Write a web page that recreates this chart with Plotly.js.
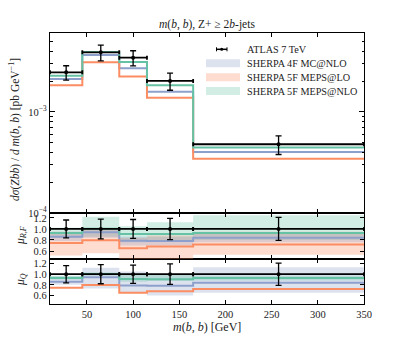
<!DOCTYPE html>
<html>
<head>
<meta charset="utf-8">
<script src="https://cdn.plot.ly/plotly-3.0.1.min.js"></script>
<style>html,body{margin:0;padding:0;background:#fff;}#chart{width:405px;height:337px;}</style>
</head>
<body>
<div id="chart"></div>
<script>
// ---- data ----
const binEdges = [10, 45, 85, 115, 165, 350];
const binCenters = [27.5, 65, 100, 140, 257.5];
const atlas = [2.47e-3, 3.90e-3, 3.45e-3, 2.03e-3, 4.79e-4];
const atlasErr = [0.40e-3, 0.70e-3, 0.59e-3, 0.39e-3, 1.00e-4];
const mcnlo4F = [2.12e-3, 3.67e-3, 2.71e-3, 1.59e-3, 4.02e-4];
const mepslo5F = [1.84e-3, 3.10e-3, 2.24e-3, 1.38e-3, 3.45e-4];
const mepsnlo5F = [2.29e-3, 3.92e-3, 3.13e-3, 1.84e-3, 4.44e-4];
// ratio-panel uncertainty bands (relative to data)
const muRF_4F_lo = [0.78, 0.84, 0.70, 0.70, 0.76];
const muRF_4F_hi = [0.95, 1.00, 0.86, 0.86, 0.92];
const muRF_LO_lo = [0.52, 0.56, 0.42, 0.42, 0.53];
const muRF_LO_hi = [0.95, 1.00, 0.84, 0.88, 0.95];
const muRF_NLO_lo = [0.84, 0.86, 0.76, 0.78, 0.80];
const muRF_NLO_hi = [1.02, 1.22, 1.05, 1.12, 1.25];
const muQ_4F_lo = [0.80, 0.73, 0.65, 0.60, 0.65];
const muQ_4F_hi = [0.96, 1.12, 1.05, 0.99, 1.13];
const muQ_NLO_lo = [0.90, 0.97, 0.86, 0.87, 0.88];
const muQ_NLO_hi = [0.97, 1.03, 1.00, 1.00, 0.97];
const xTicks = [50, 100, 150, 200, 250, 300, 350];
const ratioTicks = [0.6, 0.8, 1.0, 1.2];
const legendNames = ['ATLAS 7 TeV', 'SHERPA 4F MC@NLO', 'SHERPA 5F MEPS@LO', 'SHERPA 5F MEPS@NLO'];

// ---- styles ----
const FONT = 'Liberation Serif, DejaVu Serif, serif';
const C_BLUE = '#8da0cb', C_ORANGE = '#fc8d62', C_GREEN = '#66c2a5';
const F_BLUE = 'rgba(141,160,203,0.3)', F_ORANGE = 'rgba(252,141,98,0.3)', F_GREEN = 'rgba(102,194,165,0.3)';
const TXT = '#222';

const stepY = v => v.concat([v[v.length - 1]]);
const halfW = binEdges.slice(0, -1).map((e, i) => (binEdges[i + 1] - e) / 2);
const ratio = (m) => m.map((v, i) => v / atlas[i]);
const relErr = atlasErr.map((e, i) => e / atlas[i]);
const ones = atlas.map(() => 1);

function stepLine(y, color, xa, ya) {
  return {x: binEdges, y: stepY(y), mode: 'lines', line: {shape: 'hv', color: color, width: 2},
          xaxis: xa, yaxis: ya, showlegend: false, hoverinfo: 'skip'};
}
function band(lo, hi, fill, xa, ya) {
  return [
    {x: binEdges, y: stepY(lo), mode: 'lines', line: {shape: 'hv', width: 0}, xaxis: xa, yaxis: ya, showlegend: false, hoverinfo: 'skip'},
    {x: binEdges, y: stepY(hi), mode: 'lines', line: {shape: 'hv', width: 0}, fill: 'tonexty', fillcolor: fill, xaxis: xa, yaxis: ya, showlegend: false, hoverinfo: 'skip'}
  ];
}
function dataPts(y, err, xa, ya) {
  return {x: binCenters, y: y, mode: 'markers', marker: {color: 'black', size: 4},
    error_y: {type: 'data', array: err, color: 'black', thickness: 1.3, width: 3},
    error_x: {type: 'data', array: halfW, color: 'black', thickness: 1.8, width: 2},
    xaxis: xa, yaxis: ya, showlegend: false, hoverinfo: 'skip'};
}

const traces = [];
// main panel
traces.push(stepLine(mcnlo4F, C_BLUE, 'x3', 'y'));
traces.push(stepLine(mepslo5F, C_ORANGE, 'x3', 'y'));
traces.push(stepLine(mepsnlo5F, C_GREEN, 'x3', 'y'));
traces.push(dataPts(atlas, atlasErr, 'x3', 'y'));
// ratio panel mu_RF
traces.push(...band(muRF_NLO_lo, muRF_NLO_hi, F_GREEN, 'x2', 'y2'));
traces.push(...band(muRF_LO_lo, muRF_LO_hi, F_ORANGE, 'x2', 'y2'));
traces.push(...band(muRF_4F_lo, muRF_4F_hi, F_BLUE, 'x2', 'y2'));
traces.push(stepLine(ratio(mcnlo4F), C_BLUE, 'x2', 'y2'));
traces.push(stepLine(ratio(mepslo5F), C_ORANGE, 'x2', 'y2'));
traces.push(stepLine(ratio(mepsnlo5F), C_GREEN, 'x2', 'y2'));
traces.push(dataPts(ones, relErr, 'x2', 'y2'));
// ratio panel mu_Q
traces.push(...band(muQ_4F_lo, muQ_4F_hi, F_BLUE, 'x', 'y3'));
traces.push(...band(muQ_NLO_lo, muQ_NLO_hi, F_GREEN, 'x', 'y3'));
traces.push(stepLine(ratio(mcnlo4F), C_BLUE, 'x', 'y3'));
traces.push(stepLine(ratio(mepslo5F), C_ORANGE, 'x', 'y3'));
traces.push(stepLine(ratio(mepsnlo5F), C_GREEN, 'x', 'y3'));
traces.push(dataPts(ones, relErr, 'x', 'y3'));

// pixel -> paper helpers (plot area: x 50..364, y 33..304)
const PL = 50, PR = 364, PT = 33, PB = 304;
const px = v => (v - PL) / (PR - PL);
const py = v => (PB - v) / (PB - PT);

const TICKF = {family: FONT, size: 10.5, color: TXT};
const xCommon = {range: [10, 350], tickvals: xTicks, ticks: 'inside', ticklen: 4, tickcolor: 'black',
  showline: true, linecolor: 'black', linewidth: 1.2, mirror: 'ticks', showgrid: false, zeroline: false,
  tickfont: TICKF};
const yRatio = {tickvals: ratioTicks, ticktext: ratioTicks.map(v => v.toFixed(1)), ticks: 'inside', ticklen: 4,
  tickcolor: 'black', showline: true, linecolor: 'black', linewidth: 1.2, mirror: 'ticks', showgrid: false,
  zeroline: false, tickfont: TICKF};

const shapes = [];
const annotations = [];
// legend
const rowsY = [49.3, 63.3, 77.3, 91];
const fills = [null, F_BLUE, F_ORANGE, F_GREEN];
for (let i = 1; i < 4; i++) {
  shapes.push({type: 'rect', xref: 'paper', yref: 'paper', x0: px(206), x1: px(240), y0: py(rowsY[i] + 4), y1: py(rowsY[i] - 4),
    fillcolor: fills[i], line: {width: 0}});
}
// ATLAS legend marker
shapes.push({type: 'line', xref: 'paper', yref: 'paper', x0: px(216.5), x1: px(227), y0: py(rowsY[0]), y1: py(rowsY[0]), line: {color: 'black', width: 1.5}});
shapes.push({type: 'line', xref: 'paper', yref: 'paper', x0: px(216.5), x1: px(216.5), y0: py(rowsY[0] - 2), y1: py(rowsY[0] + 2), line: {color: 'black', width: 1}});
shapes.push({type: 'line', xref: 'paper', yref: 'paper', x0: px(227), x1: px(227), y0: py(rowsY[0] - 2), y1: py(rowsY[0] + 2), line: {color: 'black', width: 1}});
shapes.push({type: 'circle', xref: 'paper', yref: 'paper', x0: px(220.2), x1: px(223.2), y0: py(rowsY[0] + 1.5), y1: py(rowsY[0] - 1.5), fillcolor: 'black', line: {width: 0}});
for (let i = 0; i < 4; i++) {
  annotations.push({xref: 'paper', yref: 'paper', x: px(245), y: py(rowsY[i]), xanchor: 'left', yanchor: 'middle',
    text: legendNames[i], showarrow: false, font: {family: FONT, size: 10.2, color: TXT}});
}
// titles
annotations.push({xref: 'paper', yref: 'paper', x: px(207), y: py(24.5), xanchor: 'center', yanchor: 'middle', showarrow: false,
  text: '<i>m</i>(<i>b</i>, <i>b</i>), Z+ ≥ 2<i>b</i>-jets', font: {family: FONT, size: 11.5, color: TXT}});
annotations.push({xref: 'paper', yref: 'paper', x: px(14), y: py(130), xanchor: 'center', yanchor: 'middle', showarrow: false, textangle: -90,
  text: '<i>dσ</i>(<i>Zbb</i>) / <i>d m</i>(<i>b</i>, <i>b</i>) [pb GeV<sup>−1</sup>]', font: {family: FONT, size: 11.5, color: TXT}});
annotations.push({xref: 'paper', yref: 'paper', x: px(21), y: py(236), xanchor: 'center', yanchor: 'middle', showarrow: false, textangle: -90,
  text: '<i>μ<sub>R,F</sub></i>', font: {family: FONT, size: 11.5, color: TXT}});
annotations.push({xref: 'paper', yref: 'paper', x: px(21), y: py(280), xanchor: 'center', yanchor: 'middle', showarrow: false, textangle: -90,
  text: '<i>μ<sub>Q</sub></i>', font: {family: FONT, size: 11.5, color: TXT}});
annotations.push({xref: 'paper', yref: 'paper', x: px(207), y: py(327), xanchor: 'center', yanchor: 'middle', showarrow: false,
  text: '<i>m</i>(<i>b</i>, <i>b</i>) [GeV]', font: {family: FONT, size: 12, color: TXT}});

const mainMinor = [2e-4,3e-4,4e-4,5e-4,6e-4,7e-4,8e-4,9e-4,2e-3,3e-3,4e-3,5e-3,6e-3];

const layout = {
  width: 405, height: 337,
  margin: {l: PL, r: 405 - PR, t: PT, b: 337 - PB, pad: 0},
  paper_bgcolor: 'white', plot_bgcolor: 'white',
  showlegend: false,
  font: {family: FONT, color: TXT},
  xaxis: Object.assign({}, xCommon, {anchor: 'y3', domain: [0, 1]}),
  xaxis2: Object.assign({}, xCommon, {anchor: 'y2', domain: [0, 1], matches: 'x', showticklabels: false}),
  xaxis3: Object.assign({}, xCommon, {anchor: 'y', domain: [0, 1], matches: 'x', showticklabels: false}),
  yaxis: {type: 'log', domain: [0.336, 1], anchor: 'x3', range: [-4, -2.218],
    tickvals: [1e-4, 1e-3], ticktext: ['10<sup>−4</sup>', '10<sup>−3</sup>'],
    ticks: 'inside', ticklen: 5, tickcolor: 'black', showline: true, linecolor: 'black', linewidth: 1.2,
    mirror: 'ticks', showgrid: false, zeroline: false, tickfont: TICKF,
    minor: {tickmode: 'array', tickvals: mainMinor, ticks: 'inside', ticklen: 2.5, tickcolor: 'black', showgrid: false}},
  yaxis2: Object.assign({}, yRatio, {domain: [0.166, 0.336], anchor: 'x2', range: [0.455, 1.29]}),
  yaxis3: Object.assign({}, yRatio, {domain: [0, 0.166], anchor: 'x', range: [0.44, 1.285]}),
  shapes: shapes,
  annotations: annotations
};

Plotly.newPlot('chart', traces, layout, {staticPlot: true, displayModeBar: false});
</script>
</body>
</html>
